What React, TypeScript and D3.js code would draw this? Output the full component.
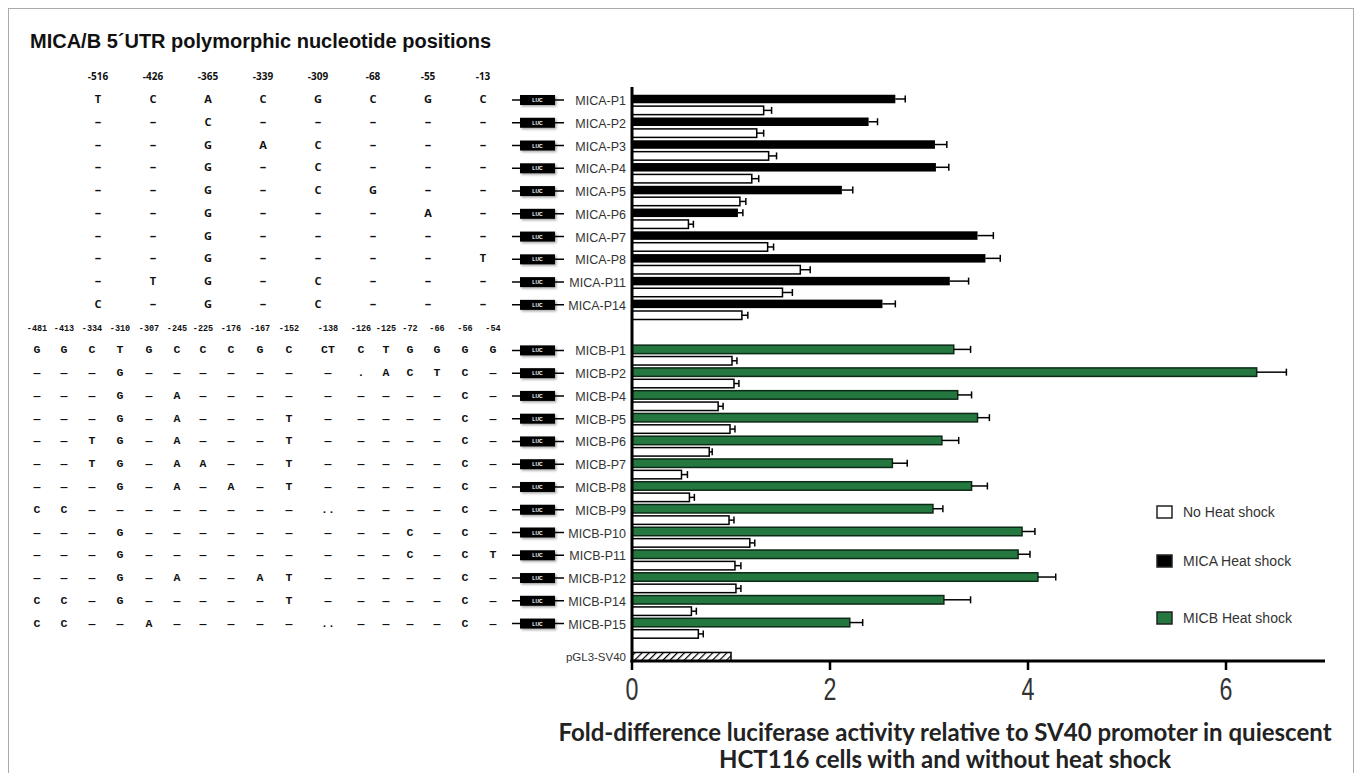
import React from "react";
import * as d3 from "d3";

// ---------- data ----------
const micaLabels = ["MICA-P1", "MICA-P2", "MICA-P3", "MICA-P4", "MICA-P5", "MICA-P6", "MICA-P7", "MICA-P8", "MICA-P11", "MICA-P14"];
const micaHeat = [2.66, 2.39, 3.06, 3.07, 2.12, 1.07, 3.49, 3.57, 3.21, 2.53];
const micaHeatErr = [0.10, 0.09, 0.12, 0.13, 0.11, 0.05, 0.16, 0.15, 0.19, 0.13];
const micaNoHeat = [1.33, 1.26, 1.38, 1.21, 1.09, 0.57, 1.37, 1.70, 1.52, 1.11];
const micaNoHeatErr = [0.08, 0.07, 0.08, 0.07, 0.06, 0.05, 0.06, 0.10, 0.10, 0.06];

const micbLabels = ["MICB-P1", "MICB-P2", "MICB-P4", "MICB-P5", "MICB-P6", "MICB-P7", "MICB-P8", "MICB-P9", "MICB-P10", "MICB-P11", "MICB-P12", "MICB-P14", "MICB-P15"];
const micbHeat = [3.25, 6.31, 3.29, 3.49, 3.13, 2.63, 3.43, 3.04, 3.94, 3.90, 4.10, 3.15, 2.20];
const micbHeatErr = [0.17, 0.30, 0.14, 0.12, 0.17, 0.15, 0.16, 0.10, 0.13, 0.12, 0.18, 0.27, 0.13];
const micbNoHeat = [1.01, 1.03, 0.87, 0.99, 0.78, 0.50, 0.58, 0.98, 1.19, 1.04, 1.05, 0.60, 0.67];
const micbNoHeatErr = [0.05, 0.05, 0.05, 0.05, 0.03, 0.06, 0.05, 0.05, 0.05, 0.06, 0.05, 0.05, 0.05];

const controlLabel = "pGL3-SV40";
const controlValue = 1.0;

const xTicks = [0, 2, 4, 6];

const micaPositions = ["-516", "-426", "-365", "-339", "-309", "-68", "-55", "-13"];
const micaAlleles = [
  ["T", "C", "A", "C", "G", "C", "G", "C"],
  ["–", "–", "C", "–", "–", "–", "–", "–"],
  ["–", "–", "G", "A", "C", "–", "–", "–"],
  ["–", "–", "G", "–", "C", "–", "–", "–"],
  ["–", "–", "G", "–", "C", "G", "–", "–"],
  ["–", "–", "G", "–", "–", "–", "A", "–"],
  ["–", "–", "G", "–", "–", "–", "–", "–"],
  ["–", "–", "G", "–", "–", "–", "–", "T"],
  ["–", "T", "G", "–", "C", "–", "–", "–"],
  ["C", "–", "G", "–", "C", "–", "–", "–"],
];

const micbPositions = ["-481", "-413", "-334", "-310", "-307", "-245", "-225", "-176", "-167", "-152", "-138", "-126", "-125", "-72", "-66", "-56", "-54"];
const micbAlleles = [
  ["G", "G", "C", "T", "G", "C", "C", "C", "G", "C", "CT", "C", "T", "G", "G", "G", "G"],
  ["–", "–", "–", "G", "–", "–", "–", "–", "–", "–", "–", ".", "A", "C", "T", "C", "–"],
  ["–", "–", "–", "G", "–", "A", "–", "–", "–", "–", "–", "–", "–", "–", "–", "C", "–"],
  ["–", "–", "–", "G", "–", "A", "–", "–", "–", "T", "–", "–", "–", "–", "–", "C", "–"],
  ["–", "–", "T", "G", "–", "A", "–", "–", "–", "T", "–", "–", "–", "–", "–", "C", "–"],
  ["–", "–", "T", "G", "–", "A", "A", "–", "–", "T", "–", "–", "–", "–", "–", "C", "–"],
  ["–", "–", "–", "G", "–", "A", "–", "A", "–", "T", "–", "–", "–", "–", "–", "C", "–"],
  ["C", "C", "–", "–", "–", "–", "–", "–", "–", "–", "..", "–", "–", "–", "–", "C", "–"],
  ["–", "–", "–", "G", "–", "–", "–", "–", "–", "–", "–", "–", "–", "C", "–", "C", "–"],
  ["–", "–", "–", "G", "–", "–", "–", "–", "–", "–", "–", "–", "–", "C", "–", "C", "T"],
  ["–", "–", "–", "G", "–", "A", "–", "–", "A", "T", "–", "–", "–", "–", "–", "C", "–"],
  ["C", "C", "–", "G", "–", "–", "–", "–", "–", "T", "–", "–", "–", "–", "–", "C", "–"],
  ["C", "C", "–", "–", "A", "–", "–", "–", "–", "–", "..", "–", "–", "–", "–", "C", "–"],
];

const legendItems = ["No Heat shock", "MICA Heat shock", "MICB Heat shock"];

// ---------- styling constants ----------
const GREEN = "#23773f";
const W = 1357;
const H = 773;

export default function App() {
  // slot scale: each bar occupies one slot
  const y = d3.scaleLinear().domain([0, 49]).range([99, 656.7]);
  const x = d3.scaleLinear().domain([0, 7]).range([632, 1325]);
  const axisY = 661;
  const barH = 8.5;

  type Bar = { slot: number; v: number; e: number | null; kind: "white" | "black" | "green" | "hatch" };
  const bars: Bar[] = [];
  micaHeat.forEach((v, i) => {
    bars.push({ slot: 2 * i, v, e: micaHeatErr[i], kind: "black" });
    bars.push({ slot: 2 * i + 1, v: micaNoHeat[i], e: micaNoHeatErr[i], kind: "white" });
  });
  micbHeat.forEach((v, j) => {
    bars.push({ slot: 22 + 2 * j, v, e: micbHeatErr[j], kind: "green" });
    bars.push({ slot: 23 + 2 * j, v: micbNoHeat[j], e: micbNoHeatErr[j], kind: "white" });
  });
  bars.push({ slot: 49, v: controlValue, e: null, kind: "hatch" });

  const rows = [
    ...micaLabels.map((l, i) => ({ label: l, slot: 2 * i })),
    ...micbLabels.map((l, j) => ({ label: l, slot: 22 + 2 * j })),
  ];

  const micaColX = d3.scalePoint<string>().domain(micaPositions).range([98, 483]);
  const micbColXs = [37, 64, 92, 120, 149, 177, 203, 231, 260, 289, 328, 361, 386, 410, 437, 465, 493];

  const fillFor = (k: string) =>
    k === "black" ? "#000" : k === "green" ? GREEN : k === "white" ? "#fff" : "url(#hatch)";

  return (
    <svg width={W} height={H} style={{ position: "absolute", left: 0, top: 0, display: "block", background: "#fff" }}>
      <defs>
        <pattern id="hatch" patternUnits="userSpaceOnUse" width="5" height="5" patternTransform="rotate(45)">
          <rect width="5" height="5" fill="#fff" />
          <line x1="0" y1="0" x2="0" y2="5" stroke="#000" strokeWidth="2.4" />
        </pattern>
        <filter id="shadow" x="-20%" y="-40%" width="140%" height="180%">
          <feDropShadow dx="1.5" dy="1.5" stdDeviation="1" floodColor="#000" floodOpacity="0.35" />
        </filter>
      </defs>

      {/* frame */}
      <rect x={8.5} y={8.5} width={1345} height={H} fill="none" stroke="#aaa" strokeWidth={1} />

      {/* title */}
      <text x={30} y={48} fontFamily="Liberation Sans, Arial, sans-serif" fontWeight="bold" fontSize={20} fill="#111">
        MICA/B 5´UTR polymorphic nucleotide positions
      </text>

      {/* MICA table */}
      <g fontFamily="Open Sans, sans-serif" fontWeight={700} fill="#111" textAnchor="middle">
        {micaPositions.map((p) => (
          <text key={p} x={micaColX(p)} y={80} fontSize={10}>{p}</text>
        ))}
        {micaAlleles.map((row, i) =>
          row.map((a, c) => (
            <text key={i + "-" + c} x={micaColX(micaPositions[c])} y={y(2 * i) + 4} fontSize={a === "–" ? 13 : 11}>{a}</text>
          ))
        )}
      </g>

      {/* MICB table */}
      <g fontFamily="Liberation Mono, DejaVu Sans Mono, monospace" fontWeight="bold" fill="#111" textAnchor="middle">
        {micbPositions.map((p, c) => (
          <text key={p} x={micbColXs[c]} y={331} fontSize={8.5}>{p}</text>
        ))}
        {micbAlleles.map((row, j) =>
          row.map((a, c) => (
            <text key={j + "-" + c} x={micbColXs[c]} y={y(22 + 2 * j) + 4} fontSize={11.5}>{a === "–" ? "—" : a}</text>
          ))
        )}
      </g>

      {/* LUC constructs and labels */}
      {rows.map((r) => {
        const cy = y(r.slot) + 1;
        return (
          <g key={r.label}>
            <line x1={512} x2={564} y1={cy} y2={cy} stroke="#000" strokeWidth={1.5} />
            <rect x={520} y={cy - 5} width={35} height={10} fill="#000" filter="url(#shadow)" />
            <text x={537.5} y={cy + 2} textAnchor="middle" fontSize={5} fontWeight="bold" fill="#fff" fontFamily="Liberation Sans, Arial, sans-serif">LUC</text>
            <text x={626} y={cy + 5} textAnchor="end" fontSize={12.5} fill="#333" fontFamily="Liberation Sans, Arial, sans-serif">{r.label}</text>
          </g>
        );
      })}
      <text x={626} y={y(49) + 4} textAnchor="end" fontSize={11.5} fill="#333" fontFamily="Liberation Sans, Arial, sans-serif">{controlLabel}</text>

      {/* bars */}
      {bars.map((b, i) => {
        const cy = y(b.slot);
        const x0 = x(0);
        const x1 = x(b.v);
        const stroke = b.kind === "green" ? "#0d2a16" : "#000";
        return (
          <g key={i}>
            <rect x={x0} y={cy - barH / 2} width={x1 - x0} height={barH}
              fill={fillFor(b.kind)} stroke={stroke} strokeWidth={b.kind === "black" ? 0 : 1.5} />
            {b.e !== null && (
              <g stroke="#000" strokeWidth={1.5}>
                <line x1={x1} x2={x(b.v + b.e)} y1={cy} y2={cy} />
                <line x1={x(b.v + b.e)} x2={x(b.v + b.e)} y1={cy - 3.5} y2={cy + 3.5} />
              </g>
            )}
          </g>
        );
      })}

      {/* axes */}
      <line x1={x(0)} x2={x(0)} y1={87} y2={axisY + 1.5} stroke="#000" strokeWidth={3} />
      <line x1={x(0) - 1.5} x2={x(7)} y1={axisY} y2={axisY} stroke="#000" strokeWidth={3} />
      {xTicks.map((t) => (
        <g key={t}>
          <line x1={x(t)} x2={x(t)} y1={axisY} y2={axisY + 9} stroke="#000" strokeWidth={2.5} />
          <text transform={`translate(${x(t)},700) scale(0.75,1)`} textAnchor="middle" fontSize={31} fill="#333"
            fontFamily="Liberation Sans, Arial, sans-serif">{t}</text>
        </g>
      ))}

      {/* axis title */}
      <g fontFamily="Lato, sans-serif" fontWeight="bold" fontSize={24} fill="#222" textAnchor="middle">
        <text x={945} y={741}>Fold-difference luciferase activity relative to SV40 promoter in quiescent</text>
        <text x={945} y={768}>HCT116 cells with and without heat shock</text>
      </g>

      {/* legend */}
      {legendItems.map((l, i) => {
        const cy = [512, 561, 618][i];
        const fill = ["#fff", "#000", GREEN][i];
        return (
          <g key={l}>
            <rect x={1157} y={cy - 6} width={15} height={12} fill={fill} stroke="#222" strokeWidth={1.5} />
            <text x={1183} y={cy + 5} fontSize={14} fill="#333" fontFamily="Liberation Sans, Arial, sans-serif">{l}</text>
          </g>
        );
      })}
    </svg>
  );
}
